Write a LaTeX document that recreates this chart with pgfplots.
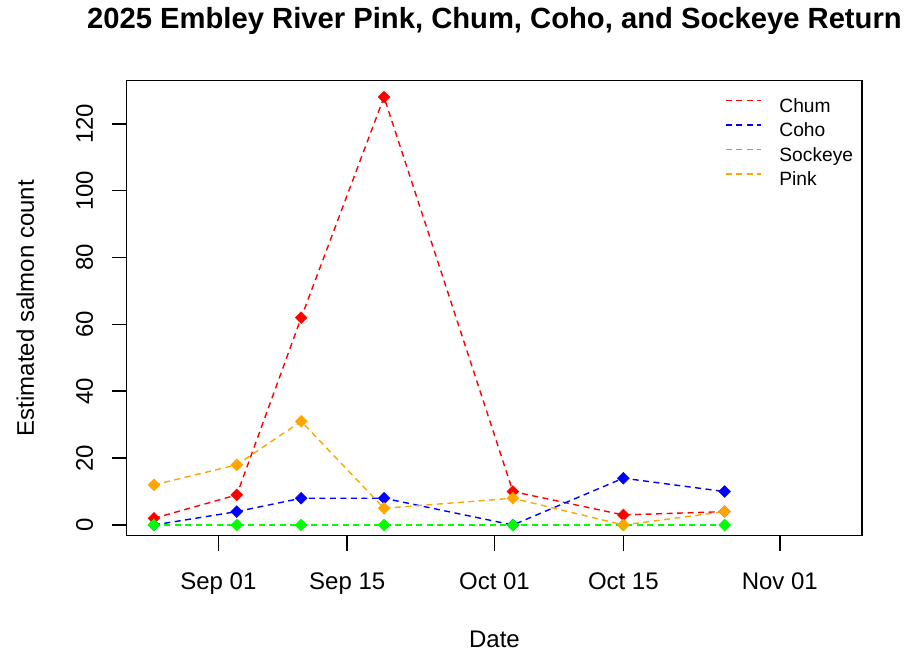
\documentclass[border=0pt]{standalone}
\usepackage{pgfplots}
\pgfplotsset{compat=1.18}
\usepackage{fontspec}
\setmainfont{Liberation Sans}

\definecolor{chumc}{RGB}{255,0,0}
\definecolor{cohoc}{RGB}{0,0,255}
\definecolor{sockc}{RGB}{0,255,0}
\definecolor{pinkc}{RGB}{255,165,0}

% days counted from Sep 01 2025
\pgfplotsset{
  salmon/.style={
    #1, dash pattern=on 3pt off 2.25pt, line width=0.7pt,
    mark=square*, mark size=2.1pt,
    mark options={solid, rotate=45, fill=#1, draw=#1, line width=0.2pt}
  }
}

\begin{document}
\begin{tikzpicture}
\path[use as bounding box] (-63.35pt,-60.15pt) rectangle (392.65pt,267.85pt);
\begin{axis}[
  at={(0,0)}, anchor=south west,
  scale only axis, width=367.8pt, height=227.5pt,
  xmin=-9.96, xmax=69.96, ymin=-3.2, ymax=132.9,
  axis line style={line width=0.8pt},
  xtick={0,14,30,44,61},
  xticklabels={Sep 01,Sep 15,Oct 01,Oct 15,Nov 01},
  ytick={0,20,40,60,80,100,120},
  tick align=outside, major tick length=7.5pt,
  tick style={line width=0.8pt, black},
  xtick pos=bottom, ytick pos=left,
  /pgf/number format/assume math mode=true,
  ticklabel style={font=\fontsize{12}{14}\selectfont, inner sep=0pt},
  xticklabel style={anchor=north, outer sep=11.15pt},
  yticklabel style={rotate=90, anchor=south, outer sep=9.35pt},
  title={2025 Embley River Pink, Chum, Coho, and Sockeye Return},
  every axis title/.style={at={([yshift=26.2pt]axis description cs:0.5,1)}, anchor=base,
    font=\fontsize{14.6}{17}\selectfont\bfseries, inner sep=0pt},
  xlabel={Date},
  every axis x label/.style={at={([yshift=-56pt]axis description cs:0.5,0)}, anchor=base,
    font=\fontsize{12}{14}\selectfont, inner sep=0pt},
  ylabel={Estimated salmon count},
  every axis y label/.style={at={([xshift=-46.35pt]axis description cs:0,0.5)}, rotate=90, anchor=base,
    font=\fontsize{12}{14}\selectfont, inner sep=0pt},
  legend cell align=left,
  legend image code/.code={\draw[#1] (0pt,3.4pt) -- (17.5pt,3.4pt);},
  legend style={at={([yshift=-8.8pt]axis description cs:0.8134,1)}, anchor=north west,
    draw=none, fill=none, inner sep=0pt, outer sep=0pt,
    font=\fontsize{9.6}{11}\selectfont, row sep=3.35pt, column sep=9pt,
    nodes={inner sep=0pt, text height=6.9pt, text depth=2pt}},
]
\addplot[salmon=chumc] coordinates {(-7,2) (2,9) (9,62) (18,128) (32,10) (44,3) (55,4)};
\addlegendentry{Chum}
\addplot[salmon=cohoc] coordinates {(-7,0) (2,4) (9,8) (18,8) (32,0) (44,14) (55,10)};
\addlegendentry{Coho}
\addplot[salmon=sockc] coordinates {(-7,0) (2,0) (9,0) (18,0) (32,0) (44,0) (55,0)};
\addlegendentry{Sockeye}
\addplot[salmon=pinkc] coordinates {(-7,12) (2,18) (9,31) (18,5) (32,8) (44,0) (55,4)};
\addlegendentry{Pink}
\end{axis}
\end{tikzpicture}
\end{document}
